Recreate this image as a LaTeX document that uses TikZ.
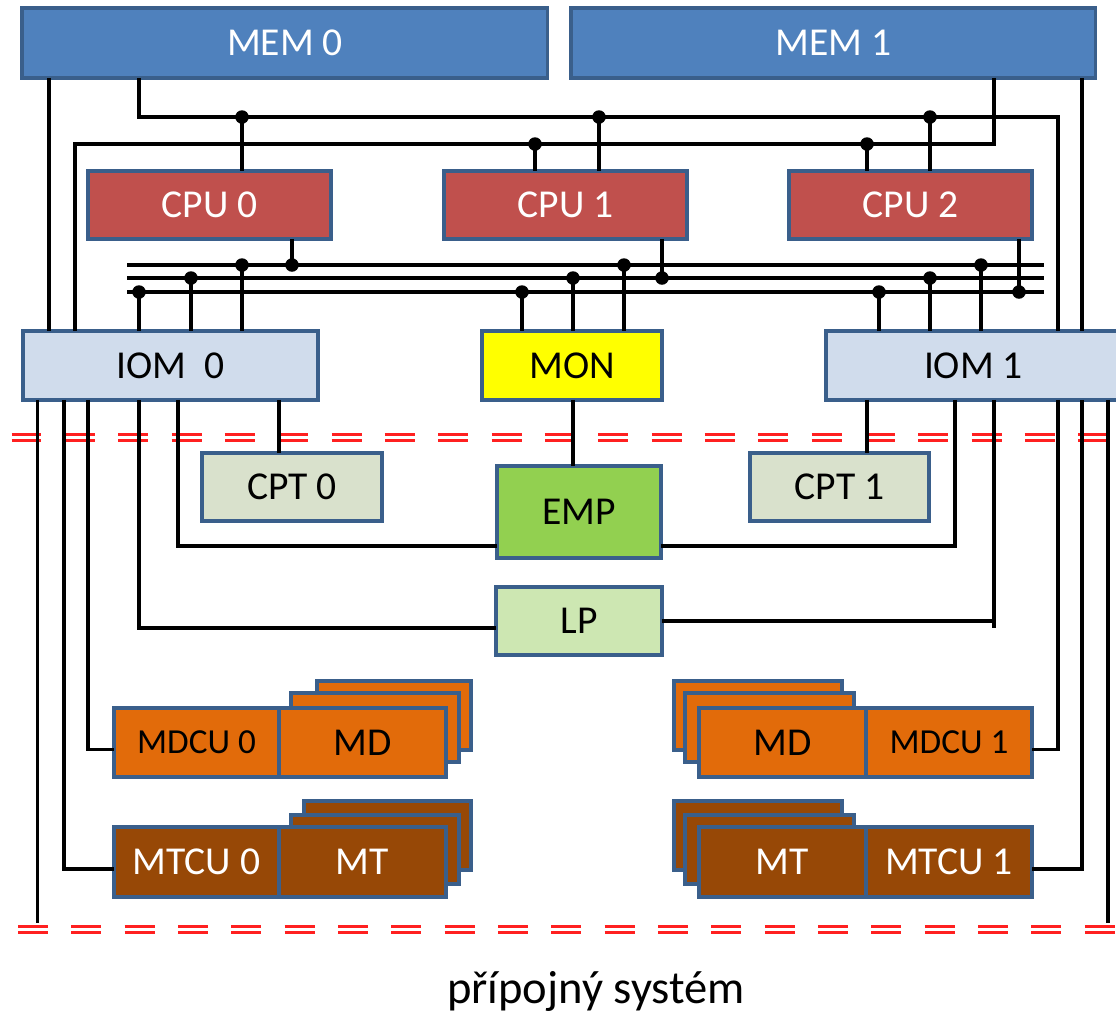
\documentclass[tikz,border=0pt]{standalone}
\usepackage{fontspec}
\setmainfont{Carlito}
\definecolor{bord}{HTML}{3A5F8B}
\definecolor{memc}{HTML}{4F81BD}
\definecolor{cpuc}{HTML}{C0504D}
\definecolor{iomc}{HTML}{D0DCEC}
\definecolor{monc}{HTML}{FFFF00}
\definecolor{cptc}{HTML}{D9E1CC}
\definecolor{empc}{HTML}{92D050}
\definecolor{lpc}{HTML}{CDE7B2}
\definecolor{mdc}{HTML}{E26B0A}
\definecolor{mtc}{HTML}{974806}
\definecolor{sepred}{HTML}{FF2020}
\begin{document}
\begin{tikzpicture}[x=0.02cm,y=-0.02cm,
  box/.style={draw=bord, line width=1.8pt, inner sep=0pt, outer sep=0pt,
    anchor=north west, font=\fontsize{22.5}{27}\selectfont},
  small/.style={font=\fontsize{20}{24}\selectfont},
  wire/.style={line width=1.9pt, black},
  dot/.style={circle, fill=black, inner sep=0pt, minimum size=0.27cm},
  sep/.style={sepred, line width=1.9pt, dash pattern=on 0.6cm off 0.467cm}]
\clip (0,0) rectangle (1116,1019);

% ---------- dashed double separators ----------
\foreach \yy in {434.6,440.6}{\draw[sep] (11.5,\yy) -- (1116,\yy);}
\foreach \yy in {926.3,932.3}{\draw[sep] (18,\yy) -- (1116,\yy);}

% ---------- memories, processors, I/O ----------
\node[box, fill=memc, text=white, minimum width=10.52cm, minimum height=1.4cm] (mem0) at (22,8) {MEM 0};
\node[box, fill=memc, text=white, minimum width=10.5cm, minimum height=1.4cm] (mem1) at (571,8) {MEM 1};
\node[box, fill=cpuc, text=white, minimum width=4.86cm, minimum height=1.36cm] (cpu0) at (88,171) {CPU 0};
\node[box, fill=cpuc, text=white, minimum width=4.86cm, minimum height=1.36cm] (cpu1) at (444,171) {CPU 1};
\node[box, fill=cpuc, text=white, minimum width=4.86cm, minimum height=1.36cm] (cpu2) at (789,171) {CPU 2};
\node[box, fill=iomc, minimum width=5.9cm, minimum height=1.38cm] (iom0) at (23,331) {IOM~~0};
\node[box, fill=monc, minimum width=3.6cm, minimum height=1.38cm] (mon) at (482,331) {MON};
\node[box, fill=iomc, minimum width=5.9cm, minimum height=1.38cm] (iom1) at (826,331) {IOM 1};
\node[box, fill=cptc, minimum width=3.6cm, minimum height=1.36cm] (cpt0) at (202,453) {CPT 0};
\node[box, fill=cptc, minimum width=3.58cm, minimum height=1.36cm] (cpt1) at (750,453) {CPT 1};
\node[box, fill=empc, minimum width=3.28cm, minimum height=1.84cm] (emp) at (497,466) {EMP};
\node[box, fill=lpc, minimum width=3.32cm, minimum height=1.36cm] (lp) at (496,587) {LP};

% ---------- disk and tape units (stacked) ----------
\node[box, fill=mdc, minimum width=3.08cm, minimum height=1.38cm] (md0c) at (317,681) {};
\node[box, fill=mdc, minimum width=3.36cm, minimum height=1.38cm] (md0b) at (291,693) {};
\node[box, fill=mdc, small, minimum width=3.3cm, minimum height=1.38cm] (mdcu0) at (114,708) {MDCU 0};
\node[box, fill=mdc, minimum width=3.34cm, minimum height=1.38cm] (md0) at (279,708) {MD};

\node[box, fill=mtc, minimum width=3.34cm, minimum height=1.38cm] (mt0c) at (304,801) {};
\node[box, fill=mtc, minimum width=3.36cm, minimum height=1.38cm] (mt0b) at (291,815) {};
\node[box, fill=mtc, text=white, minimum width=3.3cm, minimum height=1.4cm] (mtcu0) at (114,827) {MTCU 0};
\node[box, fill=mtc, text=white, minimum width=3.34cm, minimum height=1.4cm] (mt0) at (279,827) {MT};

\node[box, fill=mdc, minimum width=3.36cm, minimum height=1.38cm] (md1c) at (674,681) {};
\node[box, fill=mdc, minimum width=3.38cm, minimum height=1.38cm] (md1b) at (685,693) {};
\node[box, fill=mdc, minimum width=3.34cm, minimum height=1.38cm] (md1) at (699,708) {MD};
\node[box, fill=mdc, small, minimum width=3.32cm, minimum height=1.38cm] (mdcu1) at (866,708) {MDCU 1};

\node[box, fill=mtc, minimum width=3.36cm, minimum height=1.38cm] (mt1c) at (674,801) {};
\node[box, fill=mtc, minimum width=3.38cm, minimum height=1.38cm] (mt1b) at (685,815) {};
\node[box, fill=mtc, text=white, minimum width=3.34cm, minimum height=1.4cm] (mt1) at (699,827) {MT};
\node[box, fill=mtc, text=white, minimum width=3.32cm, minimum height=1.4cm] (mtcu1) at (866,827) {MTCU 1};

\node[anchor=base, font=\fontsize{26.5}{31}\selectfont] (caption) at (596,1003) {přípojný systém};

% ---------- rails and tap points ----------
\coordinate (rowA) at (0,117);
\coordinate (rowB) at (0,144);
\coordinate (xA) at (49,0);
\coordinate (xB) at (75,0);
\coordinate (xC) at (139,0);
\coordinate (xD) at (1058,0);
\coordinate (xE) at (994,0);
\coordinate (xF) at (1082,0);

\coordinate (tA0) at (242,117);
\coordinate (tA1) at (599,117);
\coordinate (tA2) at (930,117);
\coordinate (tB1) at (535,144);
\coordinate (tB2) at (867,144);

\coordinate (b1w) at (127,265); \coordinate (b1e) at (1044,265);
\coordinate (b2w) at (127,278); \coordinate (b2e) at (1044,278);
\coordinate (b3w) at (127,292); \coordinate (b3e) at (1044,292);

\coordinate (p1c) at (292,265);
\coordinate (p1i) at (242,265);
\coordinate (p1m) at (624,265);
\coordinate (p1j) at (981,265);
\coordinate (p2i) at (191,278);
\coordinate (p2m) at (573,278);
\coordinate (p2c) at (662,278);
\coordinate (p2j) at (930,278);
\coordinate (p3i) at (139,292);
\coordinate (p3m) at (522,292);
\coordinate (p3j) at (879,292);
\coordinate (p3c) at (1019,292);

% ---------- memory buses ----------
\draw[wire] (mem0.south -| xA) -- (iom0.north -| xA);
\draw[wire] (mem1.south -| xF) -- (iom1.north -| xF);
\draw[wire] (mem0.south -| xC) -- (xC |- rowA) -- (xD |- rowA) -- (iom1.north -| xD);
\draw[wire] (mem1.south -| xE) -- (xE |- rowB) -- (xB |- rowB) -- (iom0.north -| xB);
\draw[wire] (tA0) -- (cpu0.north -| tA0);
\draw[wire] (tA1) -- (cpu1.north -| tA1);
\draw[wire] (tA2) -- (cpu2.north -| tA2);
\draw[wire] (tB1) -- (cpu1.north -| tB1);
\draw[wire] (tB2) -- (cpu2.north -| tB2);

% ---------- interconnect bus ----------
\draw[wire] (b1w) -- (b1e);
\draw[wire] (b2w) -- (b2e);
\draw[wire] (b3w) -- (b3e);
\draw[wire] (cpu0.south -| p1c) -- (p1c);
\draw[wire] (cpu1.south -| p2c) -- (p2c);
\draw[wire] (cpu2.south -| p3c) -- (p3c);
\foreach \p in {p1i,p2i,p3i}{\draw[wire] (\p) -- (iom0.north -| \p);}
\foreach \p in {p1m,p2m,p3m}{\draw[wire] (\p) -- (mon.north -| \p);}
\foreach \p in {p1j,p2j,p3j}{\draw[wire] (\p) -- (iom1.north -| \p);}

% ---------- peripheral links ----------
\coordinate (q1) at (37.5,923);
\coordinate (q2) at (64,0);
\coordinate (q3) at (88,0);
\coordinate (q5) at (178,0);
\coordinate (q6) at (279,0);
\coordinate (r1) at (867,0);
\coordinate (r2) at (955,0);
\coordinate (lpend) at (994,628);
\coordinate (q7) at (1108,923);

\draw[wire] (iom0.south -| q1) -- (q1);
\draw[wire] (iom0.south -| q2) |- ([yshift=-0.14cm]mtcu0.west);
\draw[wire] (iom0.south -| q3) |- ([yshift=-0.14cm]mdcu0.west);
\draw[wire] (iom0.south -| xC) |- ([yshift=-0.14cm]lp.west);
\draw[wire] (iom0.south -| q5) |- ([yshift=-0.68cm]emp.west);
\draw[wire] (iom0.south -| q6) -- (cpt0.north -| q6);
\draw[wire] (mon.south -| p2m) -- (emp.north -| p2m);
\draw[wire] (iom1.south -| r1) -- (cpt1.north -| r1);
\draw[wire] (iom1.south -| r2) |- ([yshift=-0.68cm]emp.east);
\draw[wire] (iom1.south -| lpend) -- (lpend);
\draw[wire] (lp.east) -- (lp.east -| lpend);
\draw[wire] (iom1.south -| xD) |- ([yshift=-0.14cm]mdcu1.east);
\draw[wire] (iom1.south -| xF) |- ([yshift=-0.14cm]mtcu1.east);
\draw[wire] (iom1.south -| q7) -- (q7);

% ---------- junction dots ----------
\foreach \p in {tA0,tA1,tA2,tB1,tB2,p1c,p1i,p1m,p1j,p2i,p2m,p2c,p2j,p3i,p3m,p3j,p3c}
  {\node[dot] at (\p) {};}
\end{tikzpicture}
\end{document}
